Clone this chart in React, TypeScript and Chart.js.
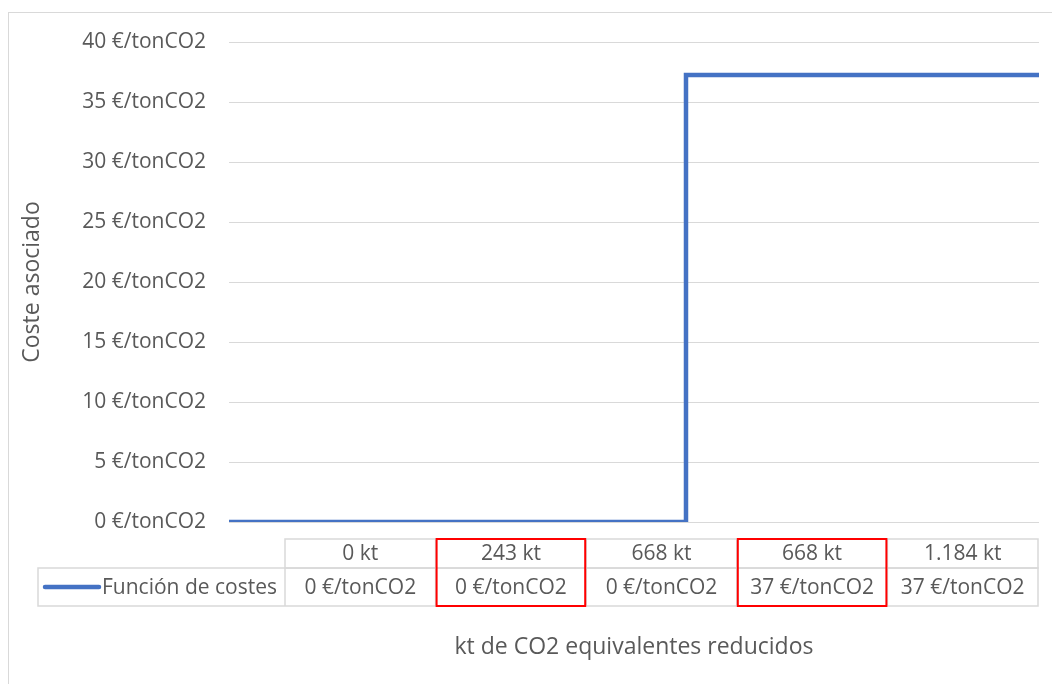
import React, { useEffect, useRef } from "react";
import { Chart, registerables } from "chart.js";

Chart.register(...registerables);

// Abatement steps (kt CO2e) and the associated marginal cost (€/tonCO2)
const reductionKt = [0, 243, 668, 668, 1184];
const costPerTon = [0, 0, 0, 37.25, 37.25];
const seriesName = "Función de costes";
const highlightedColumns = [1, 3];
const yTickValues = [0, 5, 10, 15, 20, 25, 30, 35, 40];

const FONT = "'Open Sans', 'Noto Sans', sans-serif";
const TEXT = "#595959";
const GRID = "#d9d9d9";
const LINE = "#4472C4";
const LABEL_SIZE = 21;
const TITLE_SIZE = 23;

const fmtThousands = (n: number) =>
  String(Math.round(n)).replace(/\B(?=(\d{3})+(?!\d))/g, ".");
const ktLabel = (n: number) => `${fmtThousands(n)} kt`;
const costLabel = (n: number) => `${Math.round(n)} €/tonCO2`;

const frameAndTable = {
  id: "frameAndTable",
  beforeDraw(chart: any) {
    const ctx = chart.ctx as CanvasRenderingContext2D;
    ctx.save();
    ctx.strokeStyle = GRID;
    ctx.lineWidth = 1;
    ctx.strokeRect(8.5, 12.5, 3000, 3000);
    ctx.restore();
  },
  afterDraw(chart: any) {
    const ctx = chart.ctx as CanvasRenderingContext2D;
    const area = chart.chartArea;
    const legendLeft = 38;
    const tableLeft = 285;
    const tableRight = area.right - 1;
    const headerTop = 539;
    const rowTop = 568;
    const rowBottom = 606;
    const n = reductionKt.length;
    const colW = (tableRight - tableLeft) / n;

    ctx.save();
    ctx.strokeStyle = GRID;
    ctx.lineWidth = 1.5;
    // header row
    ctx.strokeRect(tableLeft, headerTop, tableRight - tableLeft, rowTop - headerTop);
    // value row incl. legend cell
    ctx.strokeRect(legendLeft, rowTop, tableRight - legendLeft, rowBottom - rowTop);
    for (let i = 1; i < n; i++) {
      const x = tableLeft + colW * i;
      ctx.beginPath();
      ctx.moveTo(x, headerTop);
      ctx.lineTo(x, rowBottom);
      ctx.stroke();
    }
    ctx.beginPath();
    ctx.moveTo(tableLeft, rowTop);
    ctx.lineTo(tableLeft, rowBottom);
    ctx.stroke();

    // cell texts
    ctx.fillStyle = TEXT;
    ctx.font = `${LABEL_SIZE}px ${FONT}`;
    ctx.textAlign = "center";
    ctx.textBaseline = "middle";
    for (let i = 0; i < n; i++) {
      const cx = tableLeft + colW * (i + 0.5);
      ctx.fillText(ktLabel(reductionKt[i]), cx, (headerTop + rowTop) / 2 + 1);
      ctx.fillText(costLabel(costPerTon[i]), cx, (rowTop + rowBottom) / 2 + 1);
    }

    // legend key
    const ly = (rowTop + rowBottom) / 2;
    ctx.strokeStyle = LINE;
    ctx.lineWidth = 4.5;
    ctx.lineCap = "round";
    ctx.beginPath();
    ctx.moveTo(45, ly);
    ctx.lineTo(99, ly);
    ctx.stroke();
    ctx.textAlign = "right";
    ctx.fillText(seriesName, tableLeft - 8, ly + 1);

    // highlighted columns
    ctx.strokeStyle = "#ff0000";
    ctx.lineWidth = 2;
    ctx.lineCap = "butt";
    for (const c of highlightedColumns) {
      const x0 = tableLeft + colW * c;
      ctx.strokeRect(x0 + 1, headerTop, colW - 2, rowBottom - headerTop);
    }

    // x axis title
    ctx.fillStyle = TEXT;
    ctx.font = `${TITLE_SIZE}px ${FONT}`;
    ctx.textAlign = "center";
    ctx.fillText("kt de CO2 equivalentes reducidos", (area.left + area.right) / 2, 647);
    ctx.restore();
  },
};

export default function App() {
  const ref = useRef<HTMLCanvasElement | null>(null);

  useEffect(() => {
    if (!ref.current) return;
    const chart = new Chart(ref.current, {
      type: "line",
      data: {
        datasets: [
          {
            label: seriesName,
            data: reductionKt.map((x, i) => ({ x, y: costPerTon[i] })),
            borderColor: LINE,
            backgroundColor: LINE,
            borderWidth: 4.5,
            pointRadius: 0,
            tension: 0,
          },
        ],
      },
      options: {
        animation: false,
        responsive: false,
        devicePixelRatio: 1,
        layout: { padding: { left: 19, top: 42, right: 13, bottom: 162 } },
        plugins: {
          legend: { display: false },
          tooltip: { enabled: false },
        },
        scales: {
          x: {
            type: "linear",
            min: 0,
            max: reductionKt[reductionKt.length - 1],
            display: false,
          },
          y: {
            min: yTickValues[0],
            max: yTickValues[yTickValues.length - 1],
            afterBuildTicks: (s: any) => {
              s.ticks = yTickValues.map((v) => ({ value: v }));
            },
            afterFit: (s: any) => {
              s.width = 210;
            },
            ticks: {
              callback: (v: any) => costLabel(Number(v)),
              color: TEXT,
              font: { family: FONT, size: LABEL_SIZE },
              padding: 23,
            },
            grid: { color: GRID, lineWidth: 1, drawTicks: false },
            border: { display: false },
            title: {
              display: true,
              text: "Coste asociado",
              color: TEXT,
              font: { family: FONT, size: TITLE_SIZE },
              padding: 0,
            },
          },
        },
      },
      plugins: [frameAndTable],
    });
    return () => chart.destroy();
  }, []);

  return (
    <div style={{ position: "fixed", left: 0, top: 0, width: 1052, height: 684, background: "#fff" }}>
      <canvas ref={ref} width={1052} height={684} />
    </div>
  );
}
